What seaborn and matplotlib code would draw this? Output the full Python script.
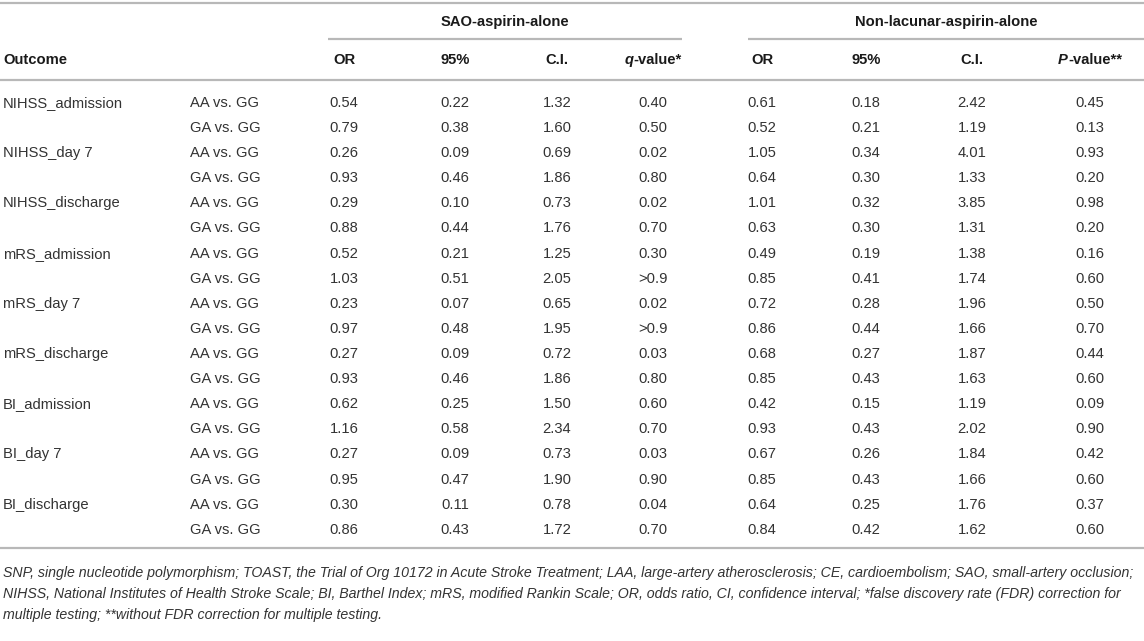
import matplotlib
matplotlib.use("Agg")
import matplotlib.pyplot as plt
import seaborn as sns
from matplotlib import font_manager

# ---------------- data ----------------
outcomes = ["NIHSS_admission", "NIHSS_day 7", "NIHSS_discharge",
            "mRS_admission", "mRS_day 7", "mRS_discharge",
            "BI_admission", "BI_day 7", "BI_discharge"]
comparisons = ["AA vs. GG", "GA vs. GG"]

sao_or = [0.54, 0.79, 0.26, 0.93, 0.29, 0.88, 0.52, 1.03, 0.23, 0.97,
          0.27, 0.93, 0.62, 1.16, 0.27, 0.95, 0.30, 0.86]
sao_lo = [0.22, 0.38, 0.09, 0.46, 0.10, 0.44, 0.21, 0.51, 0.07, 0.48,
          0.09, 0.46, 0.25, 0.58, 0.09, 0.47, 0.11, 0.43]
sao_hi = [1.32, 1.60, 0.69, 1.86, 0.73, 1.76, 1.25, 2.05, 0.65, 1.95,
          0.72, 1.86, 1.50, 2.34, 0.73, 1.90, 0.78, 1.72]
sao_q = ["0.40", "0.50", "0.02", "0.80", "0.02", "0.70", "0.30", ">0.9", "0.02", ">0.9",
         "0.03", "0.80", "0.60", "0.70", "0.03", "0.90", "0.04", "0.70"]

nl_or = [0.61, 0.52, 1.05, 0.64, 1.01, 0.63, 0.49, 0.85, 0.72, 0.86,
         0.68, 0.85, 0.42, 0.93, 0.67, 0.85, 0.64, 0.84]
nl_lo = [0.18, 0.21, 0.34, 0.30, 0.32, 0.30, 0.19, 0.41, 0.28, 0.44,
         0.27, 0.43, 0.15, 0.43, 0.26, 0.43, 0.25, 0.42]
nl_hi = [2.42, 1.19, 4.01, 1.33, 3.85, 1.31, 1.38, 1.74, 1.96, 1.66,
         1.87, 1.63, 1.19, 2.02, 1.84, 1.66, 1.76, 1.62]
nl_p = [0.45, 0.13, 0.93, 0.20, 0.98, 0.20, 0.16, 0.60, 0.50, 0.70,
        0.44, 0.60, 0.09, 0.90, 0.42, 0.60, 0.37, 0.60]

group_labels = ["SAO-aspirin-alone", "Non-lacunar-aspirin-alone"]
col_headers = ["OR", "95%", "C.I.", None, "OR", "95%", "C.I.", None]

footnote_lines = [
    "SNP, single nucleotide polymorphism; TOAST, the Trial of Org 10172 in Acute Stroke Treatment; "
    "LAA, large-artery atherosclerosis; CE, cardioembolism; SAO, small-artery occlusion;",
    "NIHSS, National Institutes of Health Stroke Scale; BI, Barthel Index; mRS, modified Rankin Scale; "
    "OR, odds ratio, CI, confidence interval; *false discovery rate (FDR) correction for",
    "multiple testing; **without FDR correction for multiple testing.",
]

# ---------------- style ----------------
sns.set_theme(style="white")


def has_font(name):
    try:
        font_manager.findfont(name, fallback_to_default=False)
        return True
    except Exception:
        return False


BASE = "Liberation Sans"
NARROW = "Liberation Sans Narrow" if has_font("Liberation Sans Narrow") else BASE
plt.rcParams["font.family"] = [BASE, "DejaVu Sans"]

W, H = 1144, 641
fig = plt.figure(figsize=(W / 100, H / 100), dpi=100)
fig.patch.set_facecolor("white")
ax = fig.add_axes([0, 0, 1, 1])
ax.set_xlim(0, W)
ax.set_ylim(H, 0)
ax.axis("off")

BODY = "#333333"
HEAD = "#1a1a1a"
LINE = "#b8b8b8"
FS = 10.6
LW = 1.6

# layout
col_x = [344, 455, 557, 653, 762, 866, 972, 1090]
x_outcome = 3
x_comp = 190
y_group = 22
y_head = 60
row_y0 = 103
row_dy = 25.1
y_lines = dict(top=3, mid=39, head=80, bottom=548)

# rules
ax.plot([0, W], [y_lines["top"]] * 2, color=LINE, lw=LW, solid_capstyle="butt")
ax.plot([0, W], [y_lines["head"]] * 2, color=LINE, lw=LW, solid_capstyle="butt")
ax.plot([0, W], [y_lines["bottom"]] * 2, color=LINE, lw=LW, solid_capstyle="butt")
ax.plot([328, 682], [y_lines["mid"]] * 2, color=LINE, lw=LW, solid_capstyle="butt")
ax.plot([748, W], [y_lines["mid"]] * 2, color=LINE, lw=LW, solid_capstyle="butt")

# group headers
ax.text((328 + 682) / 2, y_group, group_labels[0], ha="center", va="center",
        fontsize=FS, fontweight="bold", color=HEAD)
ax.text((748 + W) / 2, y_group, group_labels[1], ha="center", va="center",
        fontsize=FS, fontweight="bold", color=HEAD)

ax.text(x_outcome, y_head, "Outcome", ha="left", va="center",
        fontsize=FS, fontweight="bold", color=HEAD)

renderer = fig.canvas.get_renderer()


def mixed_center(xc, y, parts):
    """Draw text segments [(text, style)] centred at xc."""
    arts = []
    for txt, style in parts:
        t = ax.text(0, y, txt, ha="left", va="center", fontsize=FS,
                    fontweight="bold", fontstyle=style, color=HEAD)
        arts.append(t)
    widths = [a.get_window_extent(renderer).width for a in arts]
    total = sum(widths)
    x = xc - total / 2
    for a, w in zip(arts, widths):
        a.set_x(x)
        x += w


for i, h in enumerate(col_headers):
    if h is not None:
        ax.text(col_x[i], y_head, h, ha="center", va="center",
                fontsize=FS, fontweight="bold", color=HEAD)
mixed_center(col_x[3], y_head, [("q", "italic"), ("-value*", "normal")])
mixed_center(col_x[7], y_head, [("P", "italic"), ("-value**", "normal")])

# body
columns = [sao_or, sao_lo, sao_hi, sao_q, nl_or, nl_lo, nl_hi, nl_p]
n_rows = len(sao_or)
for r in range(n_rows):
    y = row_y0 + r * row_dy
    if r % 2 == 0:
        ax.text(x_outcome, y, outcomes[r // 2], ha="left", va="center",
                fontsize=FS, color=BODY)
    ax.text(x_comp, y, comparisons[r % 2], ha="left", va="center",
            fontsize=FS, color=BODY)
    for c, vals in enumerate(columns):
        v = vals[r]
        s = v if isinstance(v, str) else f"{v:.2f}"
        ax.text(col_x[c], y, s, ha="center", va="center", fontsize=FS, color=BODY)

# footnote (fit first line to the full width)
foot_y = [573, 594, 615]
probe = ax.text(3, foot_y[0], footnote_lines[0], ha="left", va="center",
                fontsize=10, fontstyle="italic", family=[NARROW, "DejaVu Sans"])
wpx = probe.get_window_extent(renderer).width
probe.remove()
ffs = 10 * (1138 / wpx)
for y, line in zip(foot_y, footnote_lines):
    ax.text(3, y, line, ha="left", va="center", fontsize=ffs, fontstyle="italic",
            color=BODY, family=[NARROW, "DejaVu Sans"])

fig.savefig("out.png", dpi=100, facecolor="white")
